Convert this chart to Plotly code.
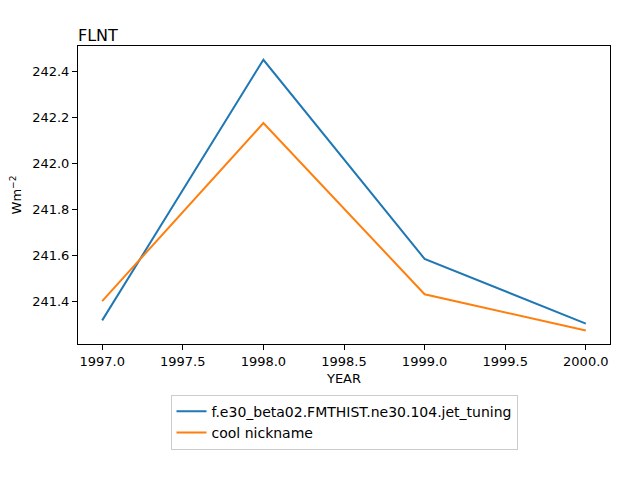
import plotly.graph_objects as go

years = [1997, 1998, 1999, 2000]
case_name = "f.e30_beta02.FMTHIST.ne30.104.jet_tuning"
case_vals = [241.316, 242.452, 241.584, 241.302]
nick_name = "cool nickname"
nick_vals = [241.400, 242.176, 241.430, 241.272]

fig = go.Figure()
fig.add_trace(go.Scatter(x=years, y=case_vals, mode="lines", name=case_name,
                         line=dict(color="#1f77b4", width=2)))
fig.add_trace(go.Scatter(x=years, y=nick_vals, mode="lines", name=nick_name,
                         line=dict(color="#ff7f0e", width=2)))

axis_common = dict(showline=True, linecolor="black", linewidth=1, mirror=True,
                   ticks="outside", ticklen=5, tickcolor="black", showgrid=False,
                   zeroline=False, automargin=False, tickfont=dict(size=13, color="black"))
fig.update_layout(
    width=640, height=480,
    paper_bgcolor="white", plot_bgcolor="white",
    font=dict(family="DejaVu Sans", color="black"),
    margin=dict(l=70, r=38, t=38, b=144),
    title=dict(text="FLNT", x=70/640, xanchor="left", y=1-27/480, yanchor="middle",
               font=dict(size=16), automargin=False),
    xaxis=dict(range=[1996.85, 2000.15], tickvals=[1997, 1997.5, 1998, 1998.5, 1999, 1999.5, 2000],
               tickformat=".1f", title=dict(text="YEAR", font=dict(size=13), standoff=6), **axis_common),
    yaxis=dict(range=[241.213, 242.512], tickvals=[241.4, 241.6, 241.8, 242.0, 242.2, 242.4],
               tickformat=".1f", title=dict(text="Wm<sup>−2</sup>", font=dict(size=13), standoff=12), **axis_common),
    legend=dict(x=0.5, xanchor="center", y=-0.17, yanchor="top",
                bordercolor="#cccccc", borderwidth=1, font=dict(size=14),
                bgcolor="white"),
    showlegend=True,
)
fig.write_html("out.html")
